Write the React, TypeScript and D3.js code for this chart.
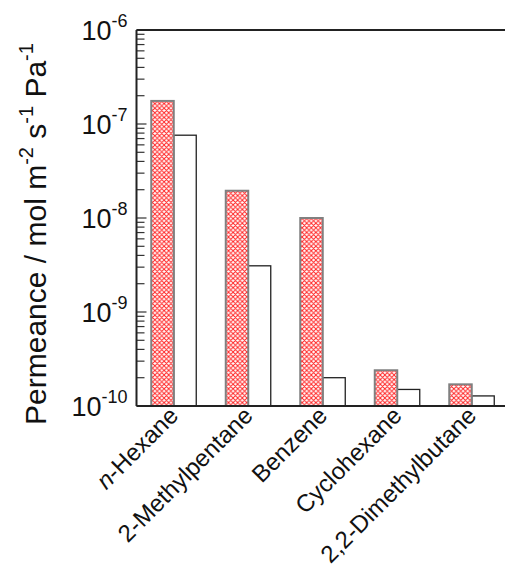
import React, { useEffect, useRef } from 'react';
import * as d3 from 'd3';

// data (mol m-2 s-1 Pa-1)
const categories = ['n-Hexane', '2-Methylpentane', 'Benzene', 'Cyclohexane', '2,2-Dimethylbutane'];
const hatchedValues = [1.76e-7, 1.95e-8, 1.0e-8, 2.4e-10, 1.7e-10];
const openValues = [7.6e-8, 3.1e-9, 2.0e-10, 1.5e-10, 1.28e-10];
const yTickExponents = [-6, -7, -8, -9, -10];

const W = 505;
const H = 564;

const App = () => {
  const svgRef = useRef<SVGSVGElement>(null);

  useEffect(() => {
    const svg = d3.select(svgRef.current);
    svg.selectAll('*').remove();

    const margin = { top: 30, right: -4, bottom: 158, left: 136.5 };
    const width = W - margin.left - margin.right;
    const height = H - margin.top - margin.bottom;
    const font = 'Liberation Sans, Arial, sans-serif';

    const p = 4.6;
    const defs = svg.append('defs');
    const pat = defs
      .append('pattern')
      .attr('id', 'hatch')
      .attr('patternUnits', 'userSpaceOnUse')
      .attr('width', p)
      .attr('height', p);
    pat.append('rect').attr('width', p).attr('height', p).attr('fill', '#fff');
    pat
      .append('path')
      .attr('d', `M0,0L${p},${p}M${p},0L0,${p}M-1,${p - 1}L1,${p + 1}M${p - 1},-1L${p + 1},1`)
      .attr('stroke', '#ff2020')
      .attr('stroke-width', 0.95);

    const con = svg.append('g').attr('transform', `translate(${margin.left}, ${margin.top})`);

    const x = d3
      .scaleBand()
      .domain(categories)
      .range([0, width])
      .paddingInner(0.396)
      .paddingOuter(0.198);

    const y = d3.scaleLog().domain([1e-10, 1e-6]).range([height, 0]);

    const barW = x.bandwidth() / 2;

    // open bars first so the hatched bar border stays on top
    con
      .selectAll('.open')
      .data(openValues)
      .enter()
      .append('rect')
      .attr('x', (d, i) => x(categories[i])! + barW)
      .attr('y', d => y(d))
      .attr('width', barW)
      .attr('height', d => height - y(d))
      .attr('fill', '#fff')
      .attr('stroke', '#222')
      .attr('stroke-width', 1.3);

    con
      .selectAll('.hatched')
      .data(hatchedValues)
      .enter()
      .append('rect')
      .attr('x', (d, i) => x(categories[i])!)
      .attr('y', d => y(d))
      .attr('width', barW)
      .attr('height', d => height - y(d))
      .attr('fill', 'url(#hatch)')
      .attr('stroke', '#808080')
      .attr('stroke-width', 2);

    // minor + major ticks, pointing inward
    const ticks: number[] = [];
    for (let e = -10; e < -6; e++) {
      for (let m = 1; m < 10; m++) ticks.push(m * Math.pow(10, e));
    }
    ticks.push(1e-6);
    con
      .selectAll('.tick')
      .data(ticks)
      .enter()
      .append('line')
      .attr('x1', 0)
      .attr('x2', d => (Math.abs(Math.log10(d) % 1) < 1e-9 ? 10 : 8))
      .attr('y1', d => y(d))
      .attr('y2', d => y(d))
      .attr('stroke', '#333')
      .attr('stroke-width', 1.2);

    // frame lines
    con
      .append('line')
      .attr('x1', 0)
      .attr('x2', width)
      .attr('y1', 0)
      .attr('y2', 0)
      .attr('stroke', '#222')
      .attr('stroke-width', 2);
    con
      .append('line')
      .attr('x1', 0)
      .attr('x2', width)
      .attr('y1', height)
      .attr('y2', height)
      .attr('stroke', '#222')
      .attr('stroke-width', 2);
    con
      .append('line')
      .attr('x1', 0)
      .attr('x2', 0)
      .attr('y1', 0)
      .attr('y2', height)
      .attr('stroke', '#222')
      .attr('stroke-width', 2);

    // y tick labels 10^n
    const labels = con
      .selectAll('.ylab')
      .data(yTickExponents)
      .enter()
      .append('text')
      .attr('x', -9)
      .attr('y', d => y(Math.pow(10, d)) + 10)
      .attr('text-anchor', 'end')
      .style('font-family', font)
      .style('font-size', '27px')
      .attr('fill', '#111');
    labels.append('tspan').text('10');
    labels
      .append('tspan')
      .attr('dy', -13)
      .style('font-size', '18px')
      .text(d => `${d}`);

    // y title
    const title = svg
      .append('text')
      .attr('transform', `translate(46, 234) rotate(-90)`)
      .attr('text-anchor', 'middle')
      .style('font-family', font)
      .style('font-size', '30px')
      .attr('fill', '#111');
    const parts: [string, boolean][] = [
      ['Permeance / mol m', false],
      ['-2', true],
      [' s', false],
      ['-1', true],
      [' Pa', false],
      ['-1', true],
    ];
    let up = false;
    parts.forEach(([t, sup]) => {
      const ts = title.append('tspan').text(t);
      if (sup && !up) {
        ts.attr('dy', -13).style('font-size', '20px');
        up = true;
      } else if (!sup && up) {
        ts.attr('dy', 13);
        up = false;
      } else if (sup) {
        ts.style('font-size', '20px');
      }
    });

    // x category labels rotated
    const xl = con
      .selectAll('.xlab')
      .data(categories)
      .enter()
      .append('text')
      .attr('transform', d => `translate(${x(d)! + barW + 6}, ${height + 11}) rotate(-45)`)
      .attr('text-anchor', 'end')
      .style('font-family', font)
      .style('font-size', '24px')
      .attr('fill', '#111');
    xl.each(function (d) {
      const t = d3.select(this);
      if (d === 'n-Hexane') {
        t.append('tspan').style('font-style', 'italic').text('n');
        t.append('tspan').text('-Hexane');
      } else {
        t.text(d);
      }
    });
  }, []);

  return (
    <div style={{ position: 'fixed', left: 0, top: 0, background: '#fff' }}>
      <svg ref={svgRef} width={W} height={H} style={{ display: 'block' }} />
    </div>
  );
};

export default App;
